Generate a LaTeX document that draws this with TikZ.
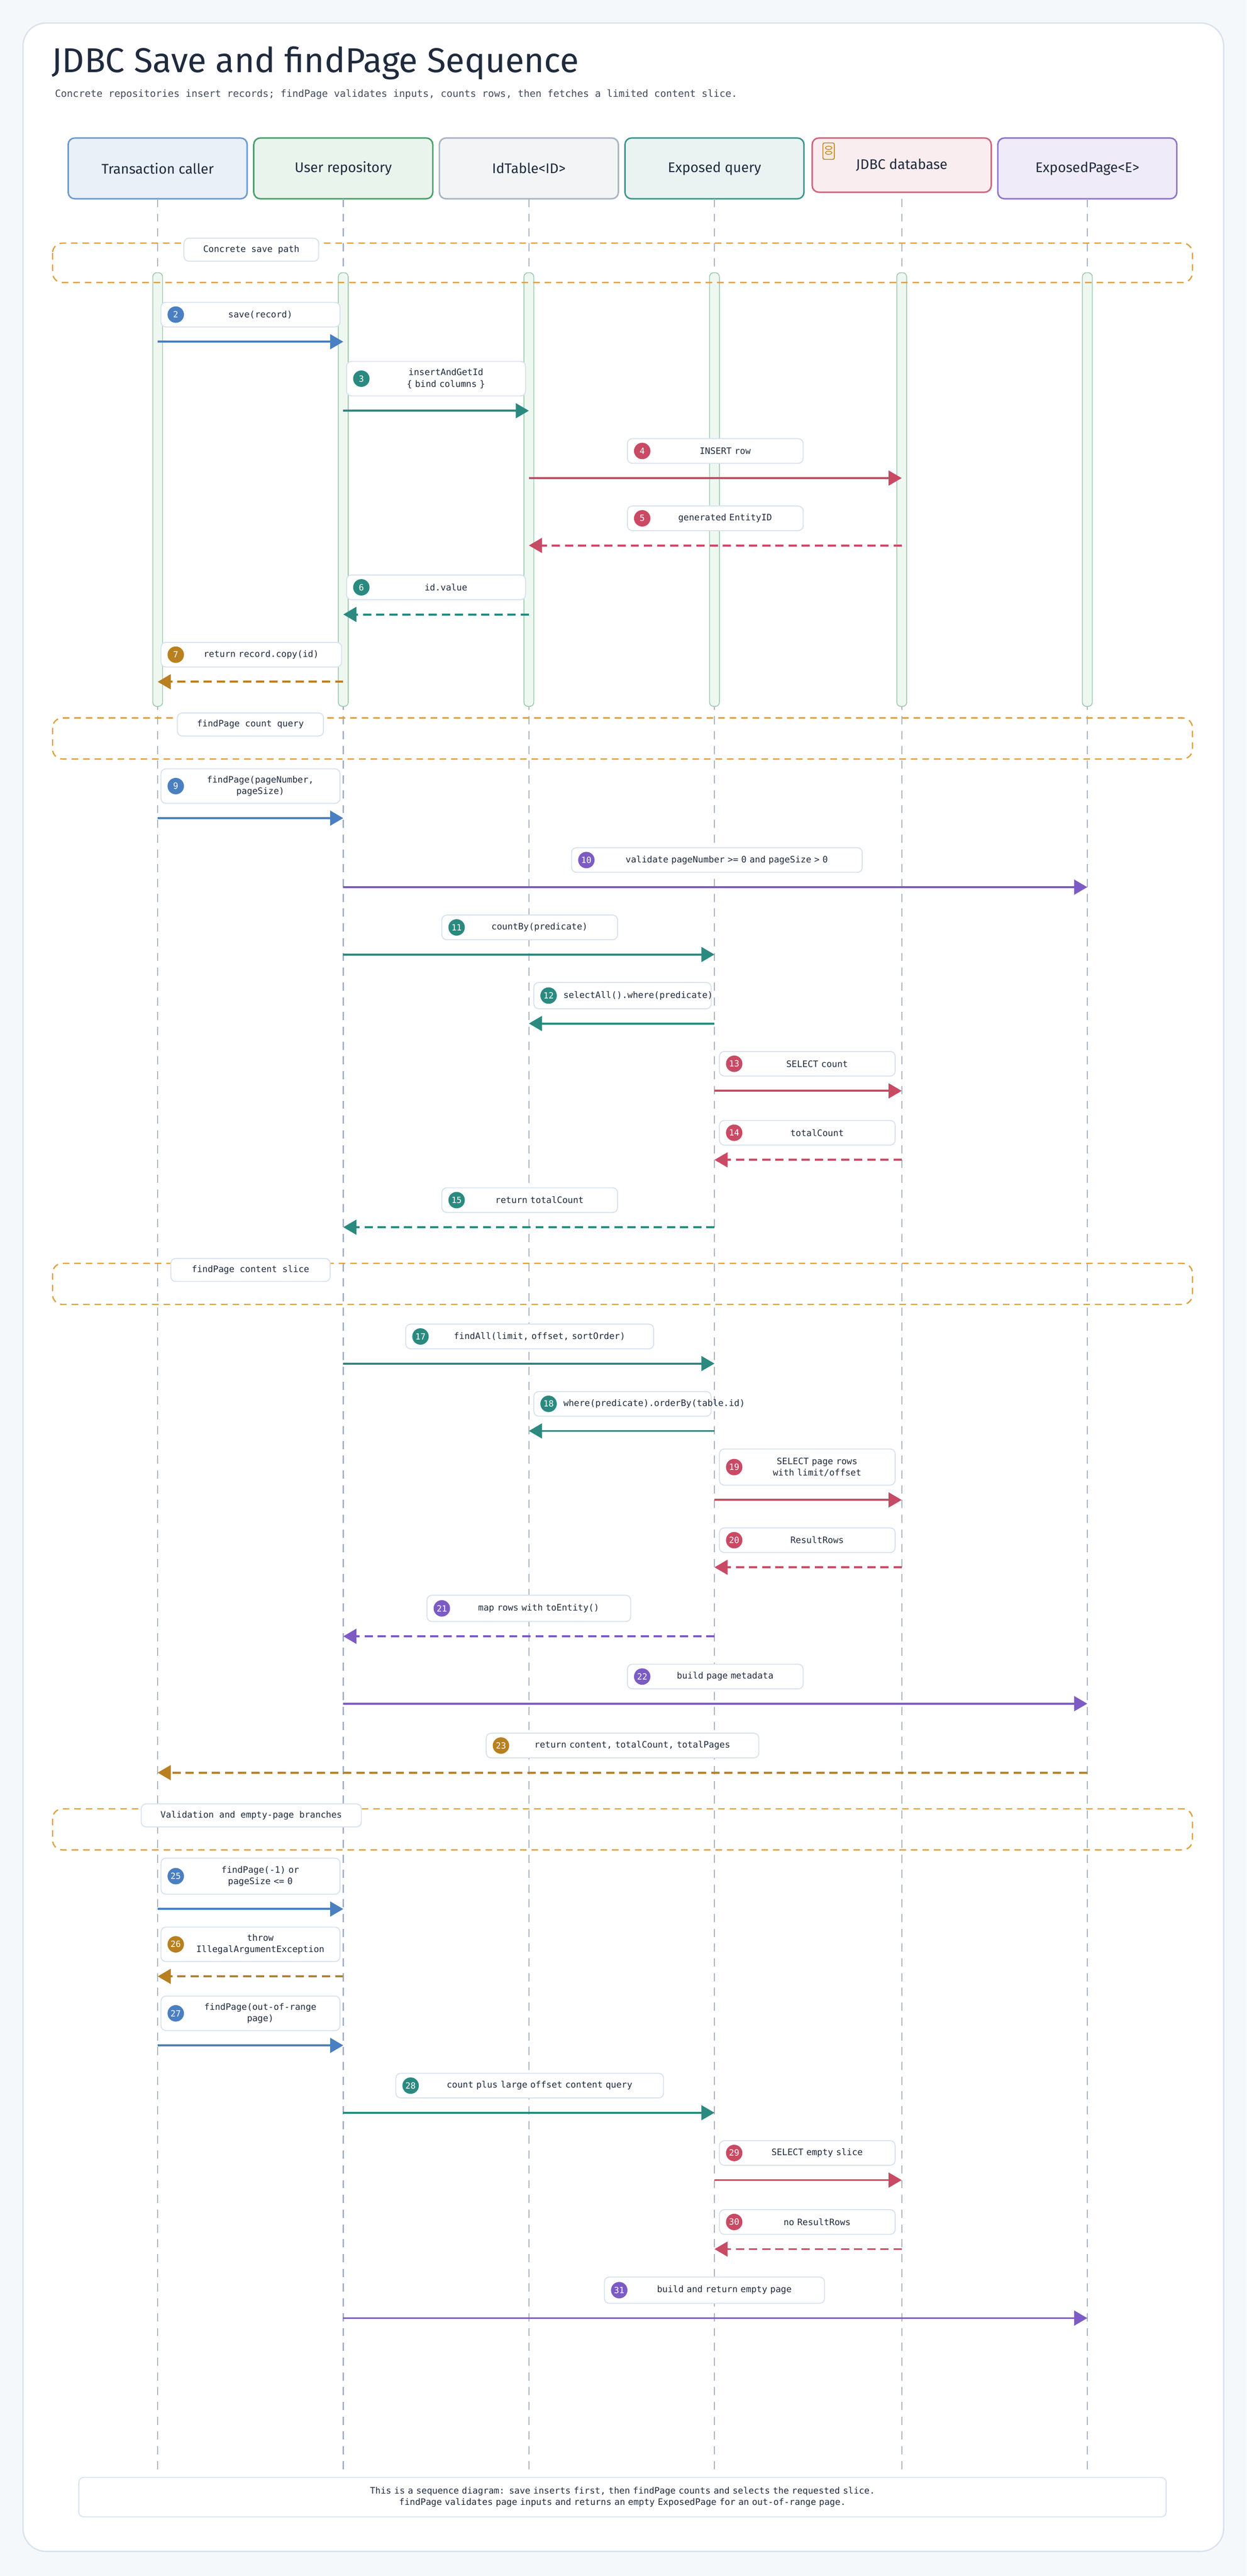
\documentclass[tikz,border=0pt]{standalone}
\usepackage{fontspec}
\setmainfont{Fira Sans}
\setmonofont{DejaVu Sans Mono}
\usetikzlibrary{arrows.meta,calc}
\definecolor{ink}{HTML}{1F2A3D}
\definecolor{cblue}{HTML}{4A7FC1}
\definecolor{cteal}{HTML}{2A8A80}
\definecolor{cred}{HTML}{C94A64}
\definecolor{cgold}{HTML}{B8801F}
\definecolor{cpurp}{HTML}{7C5CC4}
\definecolor{corange}{HTML}{E0A040}
\definecolor{edge}{HTML}{D8E2EE}
\definecolor{life}{HTML}{A8B4C4}
\definecolor{page}{HTML}{F5F8FB}
\definecolor{cgreen}{HTML}{4AA06A}
\definecolor{actline}{HTML}{9CC8AE}
\definecolor{actfill}{HTML}{EEF8F1}
\tikzset{
  head/.style={draw=#1, line width=0.9pt, rounded corners=4pt, minimum width=109pt, minimum height=37pt, font=\fontsize{8.5}{10}\selectfont, text=ink},
  lblbox/.style={draw=edge, fill=white, line width=0.6pt, rounded corners=3pt},
  badge/.style={circle, fill=#1, text=white, inner sep=0pt, minimum size=10pt, font=\ttfamily\fontsize{5.2}{6}\selectfont},
  lbltext/.style={text=ink, font=\ttfamily\fontsize{5.4}{7}\selectfont, align=center, inner sep=0pt},
  call/.style={draw=#1, line width=1.2pt, -{Triangle[length=8pt,width=9pt]}},
  reply/.style={call=#1, dash pattern=on 5pt off 3pt},
  group/.style={draw=corange, line width=0.8pt, dash pattern=on 4pt off 3pt, rounded corners=6pt},
  activ/.style={draw=actline, fill=actfill, line width=0.5pt, rounded corners=2.5pt},
}
% label box, badge and arrow for one message
\newcommand\msgbox[7]{%
  \draw[lblbox] (#3,#5) rectangle (#4,#6);
  \node[badge=#2] (b#1) at (#3+9,{(#5+#6)/2}) {#1};
  \node[lbltext, text width={(#4-#3-24)*1pt}] (t#1) at ({(#3+#4)/2+6},{(#5+#6)/2}) {#7};
}
\newcommand\callmsg[9]{%
  \msgbox{#1}{#2}{#3}{#4}{#5}{#6}{#7}
  \coordinate (s#1) at (#8 |- 0,#6+9);
  \coordinate (e#1) at (#9 |- 0,#6+9);
  \draw[call=#2] (s#1) -- (e#1);
}
\newcommand\replymsg[9]{%
  \msgbox{#1}{#2}{#3}{#4}{#5}{#6}{#7}
  \coordinate (s#1) at (#8 |- 0,#6+9);
  \coordinate (e#1) at (#9 |- 0,#6+9);
  \draw[reply=#2] (s#1) -- (e#1);
}
\newcommand\grp[5]{%
  \draw[group] (32,#1) rectangle (726,#2);
  \draw[lblbox] (#3,#1-3) rectangle (#4,#1+11);
  \node[lbltext] (g#1) at ({(#3+#4)/2},#1+4) {#5};
}
\begin{document}
\begin{tikzpicture}[x=1pt,y=-1pt]
  \fill[page] (0,0) rectangle (759,1568);
  \draw[edge, fill=white, line width=0.8pt, rounded corners=14pt] (14,14) rectangle (745,1553);
  \node[anchor=base west, text=ink, font=\fontsize{21}{24}\selectfont] (title) at (28,44) {JDBC Save and findPage Sequence};
  \node[anchor=base west, text=ink!85, font=\ttfamily\fontsize{6}{7}\selectfont] (sub) at (30,59) {Concrete repositories insert records; findPage validates inputs, counts rows, then fetches a limited content slice.};
  % participants
  \node[head=cblue!80, fill=cblue!12] (tc) at (96,102.5) {Transaction caller};
  \node[head=cgreen, fill=cgreen!12] (ur) at (209,102.5) {User repository};
  \node[head=life, fill=life!15] (it) at (322,102.5) {IdTable<ID>};
  \node[head=cteal!90, fill=cteal!10] (eq) at (435,102.5) {Exposed query};
  \node[head=cred!85, fill=cred!10, minimum height=33pt] (db) at (549,100.5) {JDBC database};
  \node[head=cpurp!85, fill=cpurp!12] (ep) at (662,102.5) {ExposedPage<E>};
  \draw[cgold, fill=cgold!15, rounded corners=1pt, line width=0.5pt] (501,87) rectangle (508,97);
  \draw[cgold, line width=0.4pt] (504.5,90) ellipse (2pt and 1pt) (504.5,93) ellipse (2pt and 1pt);
  % lifelines
  \foreach \p in {tc,ur,it,eq,db,ep} {
    \coordinate (\p end) at (\p |- 0,1505);
    \draw[life, line width=0.7pt, dash pattern=on 5pt off 4pt] (\p.south |- 0,121) -- (\p end);
  }
  % save path activations
  \foreach \p in {tc,ur,it,eq,db,ep}
    \draw[activ] ($(\p |- 0,166)+(-3,0)$) rectangle ($(\p |- 0,430)+(3,0)$);
  \grp{148}{172}{112}{194}{Concrete save path}
  \callmsg{2}{cblue}{98}{207}{184}{199}{save(record)}{tc}{ur}
  \callmsg{3}{cteal}{211}{320}{220}{241}{insertAndGetId \{ bind columns \}}{ur}{it}
  \callmsg{4}{cred}{382}{489}{267}{282}{INSERT row}{it}{db}
  \replymsg{5}{cred}{382}{489}{308}{323}{generated EntityID}{db}{it}
  \replymsg{6}{cteal}{211}{320}{350}{365}{id.value}{it}{ur}
  \replymsg{7}{cgold}{98}{208}{391}{406}{return record.copy(id)}{ur}{tc}
  % count query
  \grp{437}{462}{108}{197}{findPage count query}
  \callmsg{9}{cblue}{98}{207}{468}{489}{findPage(pageNumber, pageSize)}{tc}{ur}
  \callmsg{10}{cpurp}{348}{525}{516}{531}{validate pageNumber >= 0 and pageSize > 0}{ur}{ep}
  \callmsg{11}{cteal}{269}{376}{557}{572}{countBy(predicate)}{ur}{eq}
  \callmsg{12}{cteal}{325}{433}{598}{614}{selectAll().where(predicate)}{eq}{it}
  \callmsg{13}{cred}{438}{545}{640}{655}{SELECT count}{eq}{db}
  \replymsg{14}{cred}{438}{545}{682}{697}{totalCount}{db}{eq}
  \replymsg{15}{cteal}{269}{376}{723}{738}{return totalCount}{eq}{ur}
  % content slice
  \grp{769}{794}{104}{201}{findPage content slice}
  \callmsg{17}{cteal}{247}{398}{806}{821}{findAll(limit, offset, sortOrder)}{ur}{eq}
  \callmsg{18}{cteal}{325}{433}{847}{862}{where(predicate).orderBy(table.id)}{eq}{it}
  \callmsg{19}{cred}{438}{545}{882}{904}{SELECT page rows with limit/offset}{eq}{db}
  \replymsg{20}{cred}{438}{545}{930}{945}{ResultRows}{db}{eq}
  \replymsg{21}{cpurp}{260}{384}{971}{987}{map rows with toEntity()}{eq}{ur}
  \callmsg{22}{cpurp}{382}{489}{1013}{1028}{build page metadata}{ur}{ep}
  \replymsg{23}{cgold}{296}{462}{1055}{1070}{return content, totalCount, totalPages}{ep}{tc}
  % validation branches
  \grp{1101}{1126}{86}{220}{Validation and empty-page branches}
  \callmsg{25}{cblue}{98}{207}{1131}{1153}{findPage(-1) or pageSize <= 0}{tc}{ur}
  \replymsg{26}{cgold}{98}{207}{1173}{1194}{throw IllegalArgumentException}{ur}{tc}
  \callmsg{27}{cblue}{98}{207}{1215}{1236}{findPage(out-of-range page)}{tc}{ur}
  \callmsg{28}{cteal}{241}{404}{1262}{1277}{count plus large offset content query}{ur}{eq}
  \callmsg{29}{cred}{438}{545}{1303}{1318}{SELECT empty slice}{eq}{db}
  \replymsg{30}{cred}{438}{545}{1345}{1360}{no ResultRows}{db}{eq}
  \callmsg{31}{cpurp}{368}{502}{1386}{1402}{build and return empty page}{ur}{ep}
  % footer note
  \draw[lblbox] (48,1508) rectangle (710,1532);
  \node[lbltext, text width=600pt] (note) at (379,1520) {This is a sequence diagram: save inserts first, then findPage counts and selects the requested slice.\\findPage validates page inputs and returns an empty ExposedPage for an out-of-range page.};
\end{tikzpicture}
\end{document}
